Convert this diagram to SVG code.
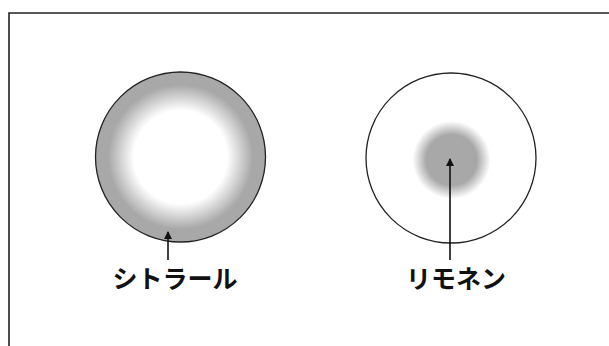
<svg xmlns="http://www.w3.org/2000/svg" width="609" height="346" viewBox="0 0 609 346">
<style>
.lbl{font-family:"Noto Sans CJK JP","Noto Sans",sans-serif;font-weight:bold;font-size:25px;fill:#111;text-anchor:middle}
.arr{stroke:#111;stroke-width:1.6;fill:none}
</style>
<defs>
<radialGradient id="gL" cx="0.5" cy="0.5" r="0.5">
<stop offset="0" stop-color="#fff"/>
<stop offset="0.55" stop-color="#fff"/>
<stop offset="0.85" stop-color="#a8a8a8"/>
<stop offset="1" stop-color="#a8a8a8"/>
</radialGradient>
<radialGradient id="gR" cx="0.5" cy="0.5" r="0.5">
<stop offset="0" stop-color="#a8a8a8"/>
<stop offset="0.65" stop-color="#a8a8a8"/>
<stop offset="1" stop-color="#a8a8a8" stop-opacity="0"/>
</radialGradient>
<marker id="ah" viewBox="0 0 8 10" refX="7" refY="5" markerWidth="8" markerHeight="10" markerUnits="userSpaceOnUse" orient="auto">
<path d="M0,1 L8,5 L0,9 Z" fill="#111"/>
</marker>
</defs>
<rect width="609" height="346" fill="#fff"/>
<path d="M9,346 L9,13 L609,13" fill="none" stroke="#222" stroke-width="1.6"/>
<g id="citral">
<circle cx="180.5" cy="157" r="85" fill="url(#gL)" stroke="#222" stroke-width="1.3"/>
<text class="lbl" x="175" y="288">シトラール</text>
</g>
<g id="limonene">
<circle cx="451" cy="158" r="85" fill="#fff" stroke="#222" stroke-width="1.3"/>
<circle cx="451.5" cy="160" r="39" fill="url(#gR)"/>
<text class="lbl" x="456" y="288">リモネン</text>
</g>
<g id="connectors">
<line class="arr" x1="168" y1="260" x2="168" y2="232" marker-end="url(#ah)"/>
<line class="arr" x1="450" y1="260" x2="450" y2="159" marker-end="url(#ah)"/>
</g>
</svg>
